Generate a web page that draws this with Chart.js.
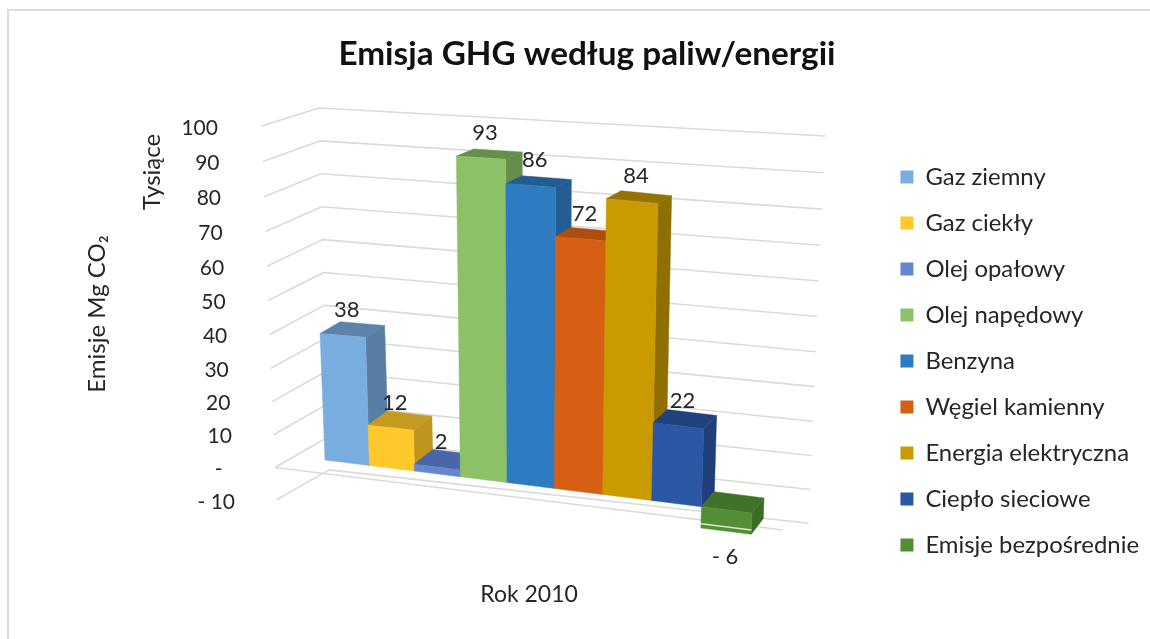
<!DOCTYPE html>
<html><head><meta charset="utf-8">
<style>html,body{margin:0;padding:0;background:#fff}canvas{display:block;filter:blur(0.45px)}</style>
<script src="https://cdn.jsdelivr.net/npm/chart.js@4"></script>
</head><body><canvas id="c" width="1150" height="639"></canvas>
<script>
const categories = ["Rok 2010"];
const seriesNames = ["Gaz ziemny","Gaz ciekły","Olej opałowy","Olej napędowy","Benzyna","Węgiel kamienny","Energia elektryczna","Ciepło sieciowe","Emisje bezpośrednie"];
const seriesValues = [38,12,2,93,86,72,84,22,-6];
const frontColors = ["#79ADDF","#FFC92B","#6585CF","#8CC168","#2E7BC1","#D55F12","#C99B00","#2B57A5","#528F34"];
const sideColors  = ["#577EA4","#BE951F","#4A64A6","#668E4B","#235D92","#A5490D","#8F6F00","#1F3F7A","#3D6B27"];
const topColors   = ["#5B83AC","#C49A20","#4A66A8","#648F48","#235C91","#AE4E0E","#957300","#20427E","#40722A"];
const FONT = "Lato, 'Open Sans', sans-serif";
const fmt = v => v === 0 ? "-" : v < 0 ? "- " + Math.abs(v) : String(v);

// projection of the 3D view: u = share along the x scale, h = px height on the y scale
const K = 3.4;
const px = (u, h) => 325 + 427 * (0.927 * u + 0.073 * u * u) + (-0.13 + 0.26 * u) * h / K;
const base = u => 460 + 0.124 * 427 * (0.927 * u + 0.073 * u * u);
const py = (u, h) => base(u) - (3.33 + 0.42 * u - 0.2 * u * u) * h / K;
const depthX = u => 20 - 8 * u;
const depthY = h => -(15 - 0.085 * h / K);
const bow = v => 0.0015 * (100 - v) * (v + 10);

function poly(ctx, pts, fill) {
  ctx.beginPath();
  pts.forEach((p, i) => i ? ctx.lineTo(p[0], p[1]) : ctx.moveTo(p[0], p[1]));
  ctx.closePath();
  ctx.fillStyle = fill; ctx.fill();
  ctx.strokeStyle = fill; ctx.lineWidth = 0.5; ctx.stroke();
}

const view3d = {
  id: "view3d",
  beforeDraw(chart) {
    const ctx = chart.ctx;
    ctx.save();
    ctx.strokeStyle = "#dcdcdc"; ctx.lineWidth = 2;
    ctx.beginPath(); ctx.moveTo(8, 639); ctx.lineTo(8, 10); ctx.lineTo(1150, 10); ctx.stroke();
    ctx.restore();
  },
  beforeDatasetsDraw(chart) {
    const ctx = chart.ctx, y = chart.scales.y;
    ctx.save();
    ctx.lineJoin = "round";
    y.ticks.forEach(t => {
      const v = t.value, p = y.getPixelForValue(v);
      const ly = p + bow(v);
      ctx.strokeStyle = "#dadada"; ctx.lineWidth = 1.6;
      ctx.beginPath();
      ctx.moveTo(275 - 0.136 * v, ly - 1);
      ctx.lineTo(328 - 0.09 * v, 437 - 3.29 * v);
      ctx.lineTo(810 + 0.15 * v, 488 - 3.52 * v + bow(v));
      ctx.stroke();
      if (v === 0) {
        ctx.beginPath(); ctx.moveTo(275, ly - 1); ctx.lineTo(783, 530); ctx.stroke();
      }
      // tick labels follow the slanted left edge of the 3D wall
      ctx.fillStyle = "#262626";
      ctx.font = "21px " + FONT;
      ctx.textAlign = "right"; ctx.textBaseline = "middle";
      ctx.fillText(fmt(v), 235 - (v + 10) * 0.155 - (v === 0 ? 11 : 0), ly + 1);
    });
    ctx.restore();
  },
  beforeDatasetDraw() { return false; },
  afterDatasetsDraw(chart) {
    const ctx = chart.ctx, a = chart.chartArea;
    ctx.save();
    chart.data.datasets.forEach((ds, i) => {
      const el = chart.getDatasetMeta(i).data[0];
      const u0 = (el.x - el.width / 2 - a.left) / a.width;
      const u1 = (el.x + el.width / 2 - a.left) / a.width;
      const zero = chart.scales.y.getPixelForValue(0);
      const h = zero - el.y;
      const hT = Math.max(h, 0), hB = Math.min(h, 0);
      const F = (u, hh) => [px(u, hh), py(u, hh)];
      const B = (u, hh) => [px(u, hh) + depthX(u), py(u, hh) + depthY(hh)];
      poly(ctx, [F(u1, hT), B(u1, hT), B(u1, hB), F(u1, hB)], sideColors[i]);
      poly(ctx, [F(u0, hT), B(u0, hT), B(u1, hT), F(u1, hT)], topColors[i]);
      poly(ctx, [F(u0, hT), F(u1, hT), F(u1, hB), F(u0, hB)], frontColors[i]);
      if (h < 0) {
        ctx.strokeStyle = "#d9e6d2"; ctx.lineWidth = 1.6;
        const s = F(u0, h * 0.8), e = F(u1, h * 0.8);
        ctx.beginPath(); ctx.moveTo(s[0], s[1]); ctx.lineTo(e[0], e[1]); ctx.stroke();
      }
    });
    chart.data.datasets.forEach((ds, i) => {
      const el = chart.getDatasetMeta(i).data[0];
      const um = (el.x - a.left) / a.width;
      const zero = chart.scales.y.getPixelForValue(0);
      const h = zero - el.y;
      const lx = px(um, h) + (h < 0 ? -1 : 4), ly = py(um, h) + (h < 0 ? 26 : -25);
      ctx.fillStyle = "#262626";
      ctx.font = "22px " + FONT;
      ctx.textAlign = "center"; ctx.textBaseline = "middle";
      ctx.fillText(fmt(ds.data[0]), lx, ly);
    });
    ctx.translate(152, 172);
    ctx.rotate(-Math.PI / 2);
    ctx.fillStyle = "#262626";
    ctx.font = "24px " + FONT;
    ctx.textAlign = "center"; ctx.textBaseline = "middle";
    ctx.fillText("Tysiące", 0, 0);
    ctx.restore();
  }
};

new Chart(document.getElementById("c"), {
  type: "bar",
  data: {
    labels: categories,
    datasets: seriesNames.map((n, i) => ({ label: n, data: [seriesValues[i]], backgroundColor: frontColors[i] }))
  },
  plugins: [view3d],
  options: {
    responsive: false,
    animation: false,
    events: [],
    layout: { padding: { left: 25, right: 1, top: 83, bottom: 0 } },
    datasets: { bar: { barPercentage: 1, categoryPercentage: 1 } },
    plugins: {
      tooltip: { enabled: false },
      title: { display: true, text: "Emisja GHG według paliw/energii", color: "#111",
        font: { family: FONT, size: 33.3, weight: "bold" }, padding: { top: -49, bottom: 53 } },
      legend: { position: "right", align: "center",
        labels: { boxWidth: 13, boxHeight: 13, padding: 22.1, color: "#262626",
          font: { family: FONT, size: 23.9 } } }
    },
    scales: {
      x: { grid: { display: false }, border: { display: false },
        afterFit: s => { s.height = 138; },
        ticks: { padding: 72, labelOffset: -31, color: "#262626", font: { family: FONT, size: 23 } } },
      y: { min: -10, max: 100, grid: { display: false }, border: { display: false },
        ticks: { display: false, stepSize: 10, autoSkip: false },
        title: { display: true, text: "Emisje Mg CO₂", color: "#262626", font: { family: FONT, size: 24 }, padding: { top: 58, bottom: 122 } } }
    }
  }
});
</script></body></html>
